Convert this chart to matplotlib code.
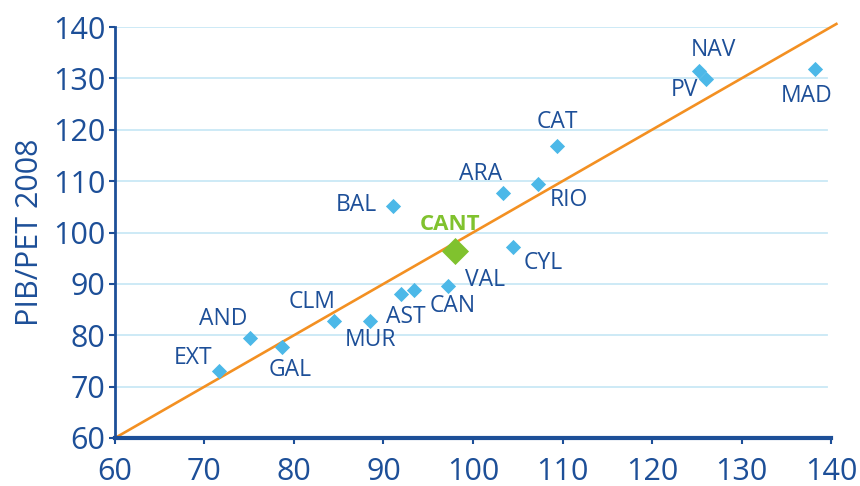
import matplotlib
matplotlib.use("Agg")
import matplotlib.pyplot as plt

# Regiones: PIB/PET 2000 (x) frente a PIB/PET 2008 (y)
regions = ["EXT", "AND", "GAL", "CLM", "MUR", "AST", "CAN", "VAL", "CYL",
           "BAL", "ARA", "RIO", "CAT", "NAV", "PV", "MAD"]
x_vals = [71.6, 75.1, 78.7, 84.5, 88.5, 91.9, 93.4, 97.2, 104.5,
          91.1, 103.3, 107.3, 109.4, 125.3, 126.0, 138.2]
y_vals = [73.0, 79.5, 77.7, 82.8, 82.8, 88.0, 88.8, 89.6, 97.2,
          105.1, 107.7, 109.4, 116.8, 131.4, 129.8, 131.8]
cant_x, cant_y = 98.0, 96.4
ticks = [60, 70, 80, 90, 100, 110, 120, 130, 140]

# desplazamiento de etiquetas (px) y alineación
label_pos = {
    "EXT": (-6, 13, "right"), "AND": (-3, 19, "right"), "GAL": (-14, -23, "left"),
    "CLM": (1, 19, "right"), "MUR": (0, -19, "center"), "AST": (-15, -23, "left"),
    "CAN": (16, -16, "left"), "VAL": (17, 6, "left"), "CYL": (10, -16, "left"),
    "BAL": (-16, 1, "right"), "ARA": (0, 19, "right"), "RIO": (11, -16, "left"),
    "CAT": (0, 24, "center"), "NAV": (-9, 21, "left"), "PV": (-8, -11, "right"),
    "MAD": (-8, -27, "center"),
}

DARK = "#1d4f98"
LIGHT = "#4cb8e8"
GREEN = "#80c22e"
ORANGE = "#f39022"
GRID = "#c9e8f6"

plt.rcParams["font.family"] = ["Open Sans", "DejaVu Sans"]

fig = plt.figure(figsize=(8.6, 4.86), dpi=100)
ax = fig.add_axes([0.1337, 0.0988, 0.8326, 0.8456])

for t in ticks:
    ax.axhline(t, color=GRID, linewidth=1.3, zorder=0, xmax=0.995)

ax.plot([60, 140.6], [60, 140.6], color=ORANGE, linewidth=1.9, zorder=2, clip_on=False)

ax.scatter(x_vals, y_vals, marker="D", s=60, color=LIGHT, linewidths=0, zorder=3)
ax.scatter([cant_x], [cant_y], marker="D", s=190, color=GREEN, linewidths=0, zorder=4)

for name, xv, yv in zip(regions, x_vals, y_vals):
    dx, dy, ha = label_pos[name]
    ax.annotate(name, (xv, yv), xytext=(dx, dy), textcoords="offset pixels",
                ha=ha, va="center", fontsize=16.5, color=DARK)
ax.annotate("CANT", (cant_x, cant_y), xytext=(-5, 26), textcoords="offset pixels",
            ha="center", va="center", fontsize=16, color=GREEN, fontweight="bold")

ax.set_xlim(60, 140)
ax.set_ylim(60, 140)
ax.set_xticks(ticks)
ax.set_yticks(ticks)
ax.tick_params(axis="both", colors=DARK, labelsize=22, length=4, width=1.5, direction="out")
ax.tick_params(axis="y", pad=3)
ax.tick_params(axis="x", pad=10)
for s in ("top", "right"):
    ax.spines[s].set_visible(False)
ax.spines["left"].set_color(DARK)
ax.spines["left"].set_linewidth(2.0)
ax.spines["bottom"].set_color(DARK)
ax.spines["bottom"].set_linewidth(3.0)
ax.set_ylabel("PIB/PET 2008", color=DARK, fontsize=22, labelpad=6)

fig.savefig("out.png", dpi=100)
